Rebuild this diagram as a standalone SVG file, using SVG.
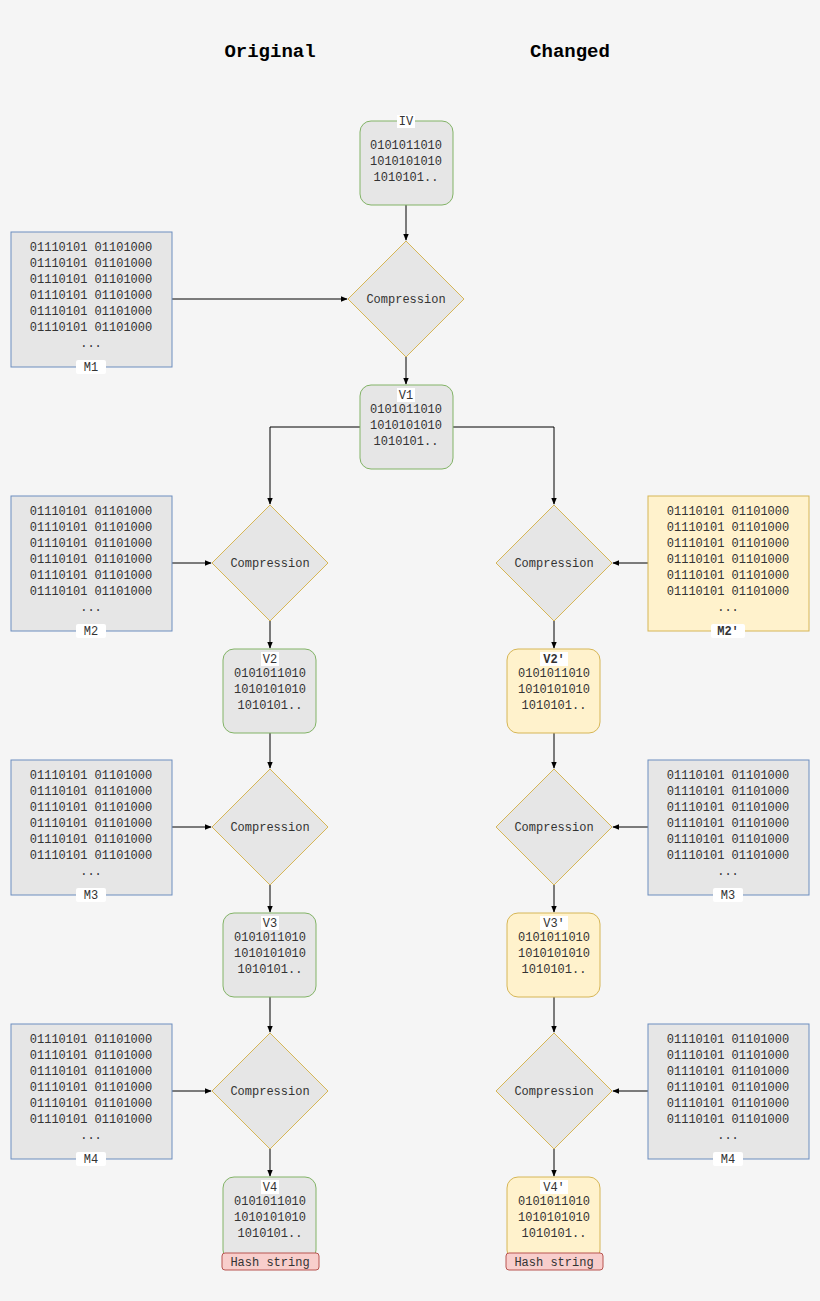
<svg xmlns="http://www.w3.org/2000/svg" width="820" height="1301" viewBox="0 0 820 1301">
<defs>
<marker id="ar" viewBox="0 0 10 10" refX="9" refY="5" markerWidth="7" markerHeight="7" orient="auto"><path d="M0,1 L10,5 L0,9 z" fill="#000"/></marker>
<style>
text{font-family:"Liberation Mono","DejaVu Sans Mono",monospace;font-size:12px;fill:#333;text-anchor:middle}
.t{font-size:19px;font-weight:bold;fill:#000}
.g{fill:#e6e6e6;stroke:#82b366}
.y{fill:#fff2cc;stroke:#d6b656}
.m{fill:#e6e6e6;stroke:#6c8ebf}
.d{fill:#e6e6e6;stroke:#d6b656}
.lb{fill:#fff;stroke:none}
.c line,.c path{stroke:#000;fill:none;marker-end:url(#ar)}
</style>
<g id="blk">
<text x="91" y="19">01110101 01101000</text><text x="91" y="35">01110101 01101000</text><text x="91" y="51">01110101 01101000</text><text x="91" y="67">01110101 01101000</text><text x="91" y="83">01110101 01101000</text><text x="91" y="99">01110101 01101000</text><text x="91" y="115">...</text>
</g>
<g id="bits"><text x="0" y="28">0101011010</text><text x="0" y="44">1010101010</text><text x="0" y="60">1010101..</text></g>
</defs>
<rect width="820" height="1301" fill="#f5f5f5"/>
<text class="t" x="270" y="57">Original</text>
<text class="t" x="570" y="57">Changed</text>
<g class="c">
<line x1="406" y1="205" x2="406" y2="240"/>
<line x1="172" y1="299" x2="347" y2="299"/>
<line x1="406" y1="357" x2="406" y2="384"/>
<path d="M360,427 H270 V504"/>
<path d="M453,427 H554 V504"/>
<line x1="172" y1="563" x2="211" y2="563"/><line x1="648" y1="563" x2="613" y2="563"/>
<line x1="270" y1="621" x2="270" y2="648"/><line x1="554" y1="621" x2="554" y2="648"/>
<line x1="270" y1="733" x2="270" y2="768"/><line x1="554" y1="733" x2="554" y2="768"/>
<line x1="172" y1="827" x2="211" y2="827"/><line x1="648" y1="827" x2="613" y2="827"/>
<line x1="270" y1="885" x2="270" y2="912"/><line x1="554" y1="885" x2="554" y2="912"/>
<line x1="270" y1="997" x2="270" y2="1032"/><line x1="554" y1="997" x2="554" y2="1032"/>
<line x1="172" y1="1091" x2="211" y2="1091"/><line x1="648" y1="1091" x2="613" y2="1091"/>
<line x1="270" y1="1149" x2="270" y2="1176"/><line x1="554" y1="1149" x2="554" y2="1176"/>
</g>
<g id="IV"><rect class="g" x="360" y="121" width="93" height="84" rx="11"/><rect class="lb" x="397" y="115" width="18" height="13"/><text x="406" y="125">IV</text><use href="#bits" x="406" y="121"/></g>
<g id="C1"><path class="d" d="M406,241 L464,299 L406,357 L348,299 z" stroke-linejoin="round"/><text x="406" y="303">Compression</text></g>
<g id="M1"><rect class="m" x="11" y="232" width="161" height="135"/><use href="#blk" x="0" y="232"/><rect class="lb" x="76" y="360" width="30" height="14" rx="2"/><text x="91" y="371">M1</text></g>
<g id="V1"><rect class="g" x="360" y="385" width="93" height="84" rx="11"/><rect class="lb" x="397" y="388" width="18" height="14"/><text x="406" y="399">V1</text><use href="#bits" x="406" y="385"/></g>

<g id="C2L"><path class="d" d="M270,505 L328,563 L270,621 L212,563 z"/><text x="270" y="567">Compression</text></g>
<g id="C2R"><path class="d" d="M554,505 L612,563 L554,621 L496,563 z"/><text x="554" y="567">Compression</text></g>
<g id="M2"><rect class="m" x="11" y="496" width="161" height="135"/><use href="#blk" x="0" y="496"/><rect class="lb" x="76" y="624" width="30" height="14" rx="2"/><text x="91" y="635">M2</text></g>
<g id="M2p"><rect class="y" x="648" y="496" width="161" height="135"/><use href="#blk" x="637" y="496"/><rect class="lb" x="711" y="624" width="34" height="14" rx="2"/><text x="728" y="635" font-weight="bold" fill="#000">M2'</text></g>
<g id="V2"><rect class="g" x="223" y="649" width="93" height="84" rx="11"/><rect class="lb" x="261" y="652" width="18" height="14"/><text x="270" y="663">V2</text><use href="#bits" x="270" y="649"/></g>
<g id="V2p"><rect class="y" x="507" y="649" width="93" height="84" rx="11"/><rect class="lb" x="540" y="652" width="28" height="14"/><text x="554" y="663" font-weight="bold" fill="#000">V2'</text><use href="#bits" x="554" y="649"/></g>

<g id="C3L"><path class="d" d="M270,769 L328,827 L270,885 L212,827 z"/><text x="270" y="831">Compression</text></g>
<g id="C3R"><path class="d" d="M554,769 L612,827 L554,885 L496,827 z"/><text x="554" y="831">Compression</text></g>
<g id="M3"><rect class="m" x="11" y="760" width="161" height="135"/><use href="#blk" x="0" y="760"/><rect class="lb" x="76" y="888" width="30" height="14" rx="2"/><text x="91" y="899">M3</text></g>
<g id="M3r"><rect class="m" x="648" y="760" width="161" height="135"/><use href="#blk" x="637" y="760"/><rect class="lb" x="713" y="888" width="30" height="14" rx="2"/><text x="728" y="899">M3</text></g>
<g id="V3"><rect class="g" x="223" y="913" width="93" height="84" rx="11"/><rect class="lb" x="261" y="916" width="18" height="14"/><text x="270" y="927">V3</text><use href="#bits" x="270" y="913"/></g>
<g id="V3p"><rect class="y" x="507" y="913" width="93" height="84" rx="11"/><rect class="lb" x="540" y="916" width="28" height="14"/><text x="554" y="927">V3'</text><use href="#bits" x="554" y="913"/></g>

<g id="C4L"><path class="d" d="M270,1033 L328,1091 L270,1149 L212,1091 z"/><text x="270" y="1095">Compression</text></g>
<g id="C4R"><path class="d" d="M554,1033 L612,1091 L554,1149 L496,1091 z"/><text x="554" y="1095">Compression</text></g>
<g id="M4"><rect class="m" x="11" y="1024" width="161" height="135"/><use href="#blk" x="0" y="1024"/><rect class="lb" x="76" y="1152" width="30" height="14" rx="2"/><text x="91" y="1163">M4</text></g>
<g id="M4r"><rect class="m" x="648" y="1024" width="161" height="135"/><use href="#blk" x="637" y="1024"/><rect class="lb" x="713" y="1152" width="30" height="14" rx="2"/><text x="728" y="1163">M4</text></g>
<g id="V4"><rect class="g" x="223" y="1177" width="93" height="84" rx="11"/><rect class="lb" x="261" y="1180" width="18" height="14"/><text x="270" y="1191">V4</text><use href="#bits" x="270" y="1177"/></g>
<g id="V4p"><rect class="y" x="507" y="1177" width="93" height="84" rx="11"/><rect class="lb" x="540" y="1180" width="28" height="14"/><text x="554" y="1191">V4'</text><use href="#bits" x="554" y="1177"/></g>
<g id="H1"><rect x="222" y="1253" width="97" height="17" rx="3" fill="#f8cecc" stroke="#b85450"/><text x="270" y="1266">Hash string</text></g>
<g id="H2"><rect x="506" y="1253" width="97" height="17" rx="3" fill="#f8cecc" stroke="#b85450"/><text x="554" y="1266">Hash string</text></g>
</svg>
